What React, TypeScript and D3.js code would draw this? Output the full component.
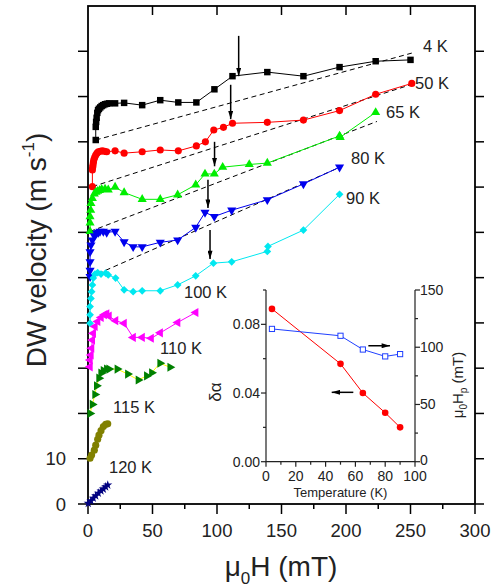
import React, { useEffect, useRef } from "react";
import * as d3 from "d3";

const W = 497;
const H = 587;
const FONT = "'Liberation Sans', Arial, Helvetica, sans-serif";

// main panel: field (mT) and offset velocity (m/s) per temperature
const h4K = [6, 6, 6.3, 6.7, 7.2, 7.8, 8.5, 9.5, 10.6, 11.8, 13.2, 14.7, 16.3, 21, 28, 42, 56, 70, 84, 98, 112, 139, 167, 195, 223, 250];
const v4K = [80.4, 83.3, 84.4, 85.3, 86.4, 87.0, 87.3, 87.6, 87.9, 88.1, 88.3, 88.4, 88.5, 88.5, 88.6, 88.1, 89.2, 88.7, 88.7, 91.6, 94.5, 95.4, 94.5, 96.5, 97.8, 98.1];

const h50K = [3.4, 3.4, 3.6, 3.9, 4.2, 4.6, 5.2, 6, 7, 8, 9.5, 11.1, 12.8, 14.5, 21, 28, 42, 56, 70, 84, 91, 97.5, 105, 112, 139, 167, 195, 223, 251];
const v50K = [70.1, 73.8, 74.4, 74.9, 75.5, 76.1, 76.6, 77.1, 77.5, 77.8, 77.9, 78.0, 77.9, 77.8, 78.0, 77.5, 77.8, 78.2, 78.0, 79.1, 80.0, 82.6, 83.2, 84.1, 84.3, 84.8, 86.9, 90.5, 92.9];

const h65K = [1.6, 1.6, 1.6, 2.1, 2.3, 3.4, 4.9, 6.2, 7.5, 9, 10.6, 13.2, 15.7, 21, 28, 42, 56, 69.5, 83.5, 90.7, 97.9, 104.4, 125, 139, 195, 195.5, 223];
const v65K = [60.2, 62.1, 63.5, 64.9, 66.4, 67.5, 68.5, 68.9, 69.1, 69.3, 69.5, 69.6, 69.4, 70.0, 68.8, 67.3, 67.3, 68.3, 70.5, 72.9, 72.9, 74.4, 75.0, 75.3, 81.3, 81.0, 86.5];

const h80K = [1.6, 1.6, 1.6, 1.6, 2.3, 3.4, 4.9, 6.7, 8, 9.3, 11.9, 14.5, 21, 28, 35, 42, 56, 69.5, 83.5, 90.7, 97.9, 111.4, 139, 167, 195];
const v80K = [50.2, 51.6, 53.5, 55.7, 57.2, 58.3, 59.2, 59.8, 60.0, 60.2, 60.2, 60.0, 60.2, 57.9, 56.8, 56.8, 57.8, 58.3, 61.1, 64.4, 63.5, 64.9, 67.2, 70.7, 74.4];

const h90K = [1.6, 1.6, 1.6, 2.3, 2.8, 3.4, 4.1, 5.4, 7.5, 10.1, 13.7, 15.7, 21.4, 28, 35, 42, 56, 69.5, 83.5, 97.2, 111.4, 139, 139.5, 167, 195];
const v90K = [39.9, 41.8, 43.6, 45.4, 46.9, 48.4, 49.9, 50.8, 51.1, 50.8, 51.0, 50.6, 49.9, 47.3, 46.9, 47.1, 47.1, 48.4, 50.4, 53.2, 53.5, 55.8, 56.9, 60.5, 68.4];

const h100K = [1.6, 1.6, 2.3, 2.8, 3.4, 4.1, 5.4, 7.5, 10.1, 12.6, 14.5, 16.3, 21.4, 28, 35, 42, 49, 56, 69.5, 83.5];
const v100K = [30.3, 31.8, 32.9, 34.4, 36.2, 37.7, 39.2, 40.3, 41.2, 41.8, 42.0, 41.5, 40.5, 39.9, 36.8, 36.8, 36.6, 37.8, 40.1, 42.3];

const h110K = [1.6, 3.4, 5.4, 6.7, 8.5, 10.1, 11.9, 14.5, 16.3, 22.7, 30.8, 39, 45.5, 49.4, 55.8, 63.6];
const v110K = [20.0, 22.0, 24.2, 26.1, 27.8, 28.9, 29.5, 29.8, 29.8, 29.8, 28.7, 27.4, 28.3, 29.0, 31.1, 30.2];

const h115K = [1.6, 2.8, 4.9, 6, 7.5, 8.5, 10.1, 11.9, 13.7, 15.3];
const v115K = [10.1, 10.8, 11.9, 13.0, 14.3, 15.2, 16.2, 17.1, 17.6, 17.7];

const h120K = [0.2, 2.3, 4.1, 6, 8, 10.1, 11.9, 13.7, 15.3];
const v120K = [0.15, 0.7, 1.3, 1.8, 2.4, 2.9, 3.3, 3.8, 4.2];

const labels = ["4 K", "50 K", "65 K", "80 K", "90 K", "100 K", "110 K", "115 K", "120 K"];

// dashed linear guides: [h0, v0, h1, v1]
const guides = [
  [6, 80.4, 251, 99.6],
  [3.4, 70.1, 250, 92.6],
  [1.6, 60.2, 224, 84.5],
  [1.6, 50.1, 197, 74.6],
];

// arrows marking the pinning field: h, top, tip
const arrowH = [116.8, 110.6, 98.1, 93.0, 94.6];
const arrowTop = [103.4, 92.6, 80.0, 71.6, 60.5];
const arrowTip = [94.5, 85.0, 74.6, 65.4, 54.1];

// inset
const insetT = [4, 50, 65, 80, 90];
const dAlpha = [0.089, 0.057, 0.04, 0.0285, 0.02];
const hPin = [116, 110, 98, 92, 94];

export default function App() {
  const ref = useRef<SVGSVGElement>(null);

  useEffect(() => {
    const svg = d3.select(ref.current);
    svg.selectAll("*").remove();

    const x = d3.scaleLinear().domain([0, 300]).range([88, 475]);
    const y = d3.scaleLinear().domain([0, 110]).range([504, 6]);

    const defs = svg.append("defs");
    defs.append("marker")
      .attr("id", "ah")
      .attr("markerUnits", "userSpaceOnUse")
      .attr("viewBox", "0 0 10 6")
      .attr("markerWidth", 9)
      .attr("markerHeight", 5)
      .attr("refX", 10)
      .attr("refY", 3)
      .attr("orient", "auto")
      .append("path")
      .attr("d", "M0,0 L10,3 L0,6 z")
      .attr("fill", "#000");

    // frame
    svg.append("rect")
      .attr("x", x(0)).attr("y", y(110))
      .attr("width", x(300) - x(0)).attr("height", y(0) - y(110))
      .attr("fill", "none").attr("stroke", "#000").attr("stroke-width", 1.8);

    const ax = svg.append("g").attr("stroke", "#000").attr("stroke-width", 1.5);
    // bottom majors + minors
    ax.selectAll("line.bM").data(d3.range(0, 301, 50)).join("line")
      .attr("x1", d => x(d)).attr("x2", d => x(d))
      .attr("y1", y(0)).attr("y2", y(0) + 10);
    ax.selectAll("line.bm").data(d3.range(25, 300, 50)).join("line")
      .attr("x1", d => x(d)).attr("x2", d => x(d))
      .attr("y1", y(0)).attr("y2", y(0) + 5);
    // top (inward)
    ax.selectAll("line.t").data(d3.range(50, 300, 50)).join("line")
      .attr("x1", d => x(d)).attr("x2", d => x(d))
      .attr("y1", y(110)).attr("y2", y(110) + 9);
    // left and right (outward)
    ax.selectAll("line.l").data(d3.range(0, 101, 10)).join("line")
      .attr("x1", x(0) - 10).attr("x2", x(0))
      .attr("y1", d => y(d)).attr("y2", d => y(d));
    ax.selectAll("line.r").data(d3.range(0, 101, 10)).join("line")
      .attr("x1", x(300)).attr("x2", x(300) + 9)
      .attr("y1", d => y(d)).attr("y2", d => y(d));

    const txt = svg.append("g").attr("font-family", FONT).attr("fill", "#222");
    txt.selectAll("text.bx").data(d3.range(0, 301, 50)).join("text")
      .attr("x", d => x(d)).attr("y", 537)
      .attr("text-anchor", "middle").attr("font-size", 18.5)
      .text(d => d);
    txt.selectAll("text.ly").data([0, 10]).join("text")
      .attr("x", 66).attr("y", d => y(d) + 6.6)
      .attr("text-anchor", "end").attr("font-size", 18.5)
      .text(d => d);

    const xt = txt.append("text").attr("x", 281).attr("y", 576)
      .attr("text-anchor", "middle").attr("font-size", 28);
    xt.append("tspan").text("\u03bc");
    xt.append("tspan").attr("font-size", 17).attr("dy", 8).text("0");
    xt.append("tspan").attr("dy", -8).text("H (mT)");

    const yt = txt.append("text")
      .attr("transform", `translate(46,250) rotate(-90)`)
      .attr("text-anchor", "middle").attr("font-size", 28);
    yt.append("tspan").text("DW velocity (m s");
    yt.append("tspan").attr("font-size", 17).attr("dy", -12).text("-1");
    yt.append("tspan").attr("dy", 12).text(")");

    // dashed guides
    svg.append("g").selectAll("line").data(guides).join("line")
      .attr("x1", d => x(d[0])).attr("y1", d => y(d[1]))
      .attr("x2", d => x(d[2])).attr("y2", d => y(d[3]))
      .attr("stroke", "#000").attr("stroke-width", 1)
      .attr("stroke-dasharray", "5,3.5");

    const curves = [
      { h: h4K, v: v4K, color: "#000000", line: "#000000", sym: d3.symbolSquare, size: 42, rot: 0 },
      { h: h50K, v: v50K, color: "#ff0000", line: "#ff0000", sym: d3.symbolCircle, size: 40, rot: 0 },
      { h: h65K, v: v65K, color: "#00ee00", line: "#00ee00", sym: d3.symbolTriangle, size: 36, rot: 0 },
      { h: h80K, v: v80K, color: "#0000ee", line: "#0000ee", sym: d3.symbolTriangle, size: 36, rot: 180 },
      { h: h90K, v: v90K, color: "#00e8f0", line: "#00e8f0", sym: d3.symbolSquare, size: 30, rot: 45 },
      { h: h100K, v: v100K, color: "#ff00ff", line: "#ff00ff", sym: d3.symbolTriangle, size: 36, rot: -90 },
      { h: h110K, v: v110K, color: "#008000", line: "#ffff00", sym: d3.symbolTriangle, size: 36, rot: 90 },
      { h: h115K, v: v115K, color: "#808000", line: "#808000", sym: d3.symbolCircle, size: 40, rot: 0 },
      { h: h120K, v: v120K, color: "#000080", line: "#000080", sym: d3.symbolStar, size: 26, rot: 0 },
    ];

    const line = d3.line<[number, number]>().x(d => x(d[0])).y(d => y(d[1]));
    curves.forEach(c => {
      const pts = d3.zip(c.h, c.v) as [number, number][];
      const g = svg.append("g");
      g.append("path").datum(pts).attr("d", line)
        .attr("fill", "none").attr("stroke", c.line).attr("stroke-width", 1);
      g.selectAll("path.pt").data(pts).join("path")
        .attr("transform", d => `translate(${x(d[0])},${y(d[1])}) rotate(${c.rot})`)
        .attr("d", d3.symbol().type(c.sym).size(c.size))
        .attr("fill", c.color);
    });

    // arrows
    svg.append("g").selectAll("line").data(arrowH).join("line")
      .attr("x1", d => x(d)).attr("x2", d => x(d))
      .attr("y1", (d, i) => y(arrowTop[i])).attr("y2", (d, i) => y(arrowTip[i]))
      .attr("stroke", "#000").attr("stroke-width", 1.5)
      .attr("marker-end", "url(#ah)");

    // curve labels (pixel layout)
    const labelPos = [
      [423, 52], [415, 89], [386, 118], [351, 164], [346, 204],
      [184, 298], [160, 354], [113, 413], [109, 473],
    ];
    txt.selectAll("text.cl").data(labels).join("text")
      .attr("x", (d, i) => labelPos[i][0]).attr("y", (d, i) => labelPos[i][1])
      .attr("font-size", 16.5)
      .text(d => d);

    // ---------- inset ----------
    const ix = d3.scaleLinear().domain([0, 100]).range([266, 415]);
    const iyL = d3.scaleLinear().domain([0, 0.1]).range([461.7, 290]);
    const iyR = d3.scaleLinear().domain([0, 150]).range([461.7, 290]);

    const ig = svg.append("g");
    const iax = ig.append("g").attr("stroke", "#222").attr("stroke-width", 1.2).attr("fill", "none");
    iax.append("path").attr("d", `M${ix(0)},${iyL(0.1)}V${iyL(0)}H${ix(100)}V${iyR(150)}`);
    iax.selectAll("line.b").data(d3.range(0, 101, 10)).join("line")
      .attr("x1", d => ix(d)).attr("x2", d => ix(d))
      .attr("y1", iyL(0)).attr("y2", d => iyL(0) + (d % 20 === 0 ? 5 : 3));
    iax.selectAll("line.l").data(d3.range(0, 0.101, 0.02)).join("line")
      .attr("x1", (d, i) => ix(0) - (i % 2 === 0 ? 5 : 3)).attr("x2", ix(0))
      .attr("y1", d => iyL(d)).attr("y2", d => iyL(d));
    iax.selectAll("line.r").data(d3.range(0, 151, 25)).join("line")
      .attr("x1", ix(100)).attr("x2", d => ix(100) + (d % 50 === 0 ? 5 : 3))
      .attr("y1", d => iyR(d)).attr("y2", d => iyR(d));

    const it = ig.append("g").attr("font-family", FONT).attr("fill", "#222").attr("font-size", 14);
    it.selectAll("text.b").data(d3.range(0, 101, 20)).join("text")
      .attr("x", d => ix(d)).attr("y", 481).attr("text-anchor", "middle").text(d => d);
    it.selectAll("text.l").data([0, 0.04, 0.08]).join("text")
      .attr("x", ix(0) - 6).attr("y", d => iyL(d) + 5).attr("text-anchor", "end")
      .text(d => d3.format(".2f")(d));
    it.selectAll("text.r").data([0, 50, 100, 150]).join("text")
      .attr("x", ix(100) + 5).attr("y", d => iyR(d) + (d === 0 ? 3.5 : 5)).text(d => d);
    it.append("text").attr("x", 340.5).attr("y", 497).attr("text-anchor", "middle")
      .attr("font-size", 13).text("Temperature (K)");
    it.append("text").attr("transform", "translate(221,392) rotate(-90)")
      .attr("text-anchor", "middle").attr("font-size", 17).text("\u03b4\u03b1");
    const rt = it.append("text").attr("transform", "translate(463,385) rotate(-90)")
      .attr("text-anchor", "middle").attr("font-size", 15);
    rt.append("tspan").text("\u03bc");
    rt.append("tspan").attr("font-size", 10).attr("dy", 4).text("0");
    rt.append("tspan").attr("dy", -4).text("H");
    rt.append("tspan").attr("font-size", 10).attr("dy", 4).text("p");
    rt.append("tspan").attr("dy", -4).text(" (mT)");

    const redPts = d3.zip(insetT, dAlpha) as [number, number][];
    const bluePts = d3.zip(insetT, hPin) as [number, number][];
    ig.append("path").datum(redPts)
      .attr("d", d3.line<[number, number]>().x(d => ix(d[0])).y(d => iyL(d[1])))
      .attr("fill", "none").attr("stroke", "#ff0000").attr("stroke-width", 1);
    ig.append("path").datum(bluePts)
      .attr("d", d3.line<[number, number]>().x(d => ix(d[0])).y(d => iyR(d[1])))
      .attr("fill", "none").attr("stroke", "#2040ff").attr("stroke-width", 1);
    ig.selectAll("circle.r").data(redPts).join("circle")
      .attr("cx", d => ix(d[0])).attr("cy", d => iyL(d[1])).attr("r", 3.3)
      .attr("fill", "#ff0000");
    ig.selectAll("rect.b").data(bluePts).join("rect")
      .attr("x", d => ix(d[0]) - 2.6).attr("y", d => iyR(d[1]) - 2.6)
      .attr("width", 5.2).attr("height", 5.2)
      .attr("fill", "#fff").attr("stroke", "#2040ff").attr("stroke-width", 1);

    // inset arrows
    ig.append("line")
      .attr("x1", ix(68.7)).attr("x2", ix(83.2))
      .attr("y1", iyR(101.3)).attr("y2", iyR(101.3))
      .attr("stroke", "#000").attr("stroke-width", 1.5).attr("marker-end", "url(#ah)");
    ig.append("line")
      .attr("x1", ix(58.6)).attr("x2", ix(44.1))
      .attr("y1", iyL(0.0404)).attr("y2", iyL(0.0404))
      .attr("stroke", "#000").attr("stroke-width", 1.5).attr("marker-end", "url(#ah)");
  }, []);

  return (
    <svg
      ref={ref}
      width={W}
      height={H}
      style={{ position: "absolute", left: 0, top: 0, background: "#fff" }}
    />
  );
}
